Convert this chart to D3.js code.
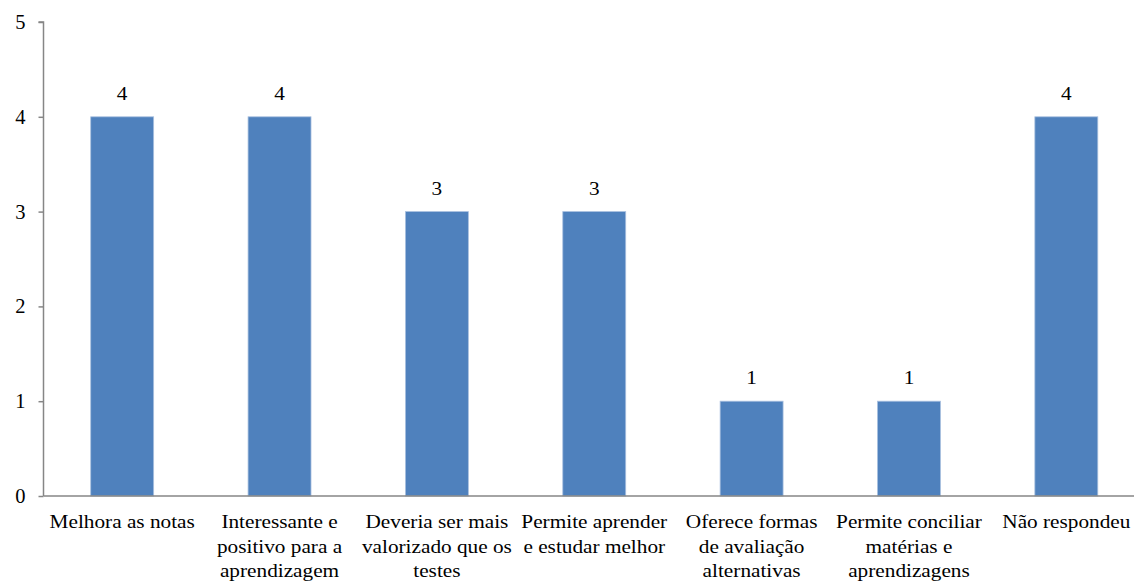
<!DOCTYPE html>
<html>
<head>
<meta charset="utf-8">
<script src="https://cdn.jsdelivr.net/npm/d3@7"></script>
<style>
  body { margin: 0; background: #fff; }
  #chart { width: 1134px; height: 582px; }
</style>
</head>
<body>
<div id="chart"></div>
<script>
// Chart data
var categories = [
    "Melhora as notas",
    "Interessante e positivo para a aprendizagem",
    "Deveria ser mais valorizado que os testes",
    "Permite aprender e estudar melhor",
    "Oferece formas de avaliação alternativas",
    "Permite conciliar matérias e aprendizagens",
    "Não respondeu"
];
var values = [4, 4, 3, 3, 1, 1, 4];
// Label lines as they wrap in the picture
var labelLines = [
    ["Melhora as notas"],
    ["Interessante e", "positivo para a", "aprendizagem"],
    ["Deveria ser mais", "valorizado que os", "testes"],
    ["Permite aprender", "e estudar melhor"],
    ["Oferece formas", "de avaliação", "alternativas"],
    ["Permite conciliar", "matérias e", "aprendizagens"],
    ["Não respondeu"]
];
var yTicks = [0, 1, 2, 3, 4, 5];

var serif = "'Liberation Serif', 'Times New Roman', 'DejaVu Serif', serif";

function init() {
    var container = d3.select("#chart");
    var w = 1134, h = 582;

    var svg = container.append("svg")
                .attr("width", w)
                .attr("height", h);

    // Plot area extends a bit past the right edge, like the source
    var x = d3.scaleBand()
              .domain(categories)
              .range([43.5, 1145])
              .paddingInner(0.6)
              .paddingOuter(0.3);

    var y = d3.scaleLinear()
              .domain([0, 5])
              .range([496, 22]);

    // Bars
    svg.selectAll("rect.bar")
        .data(values)
        .enter()
        .append("rect")
        .attr("class", "bar")
        .attr("x", function(d, i) { return x(categories[i]); })
        .attr("y", function(d) { return y(d); })
        .attr("width", x.bandwidth())
        .attr("height", function(d) { return y(0) - y(d); })
        .attr("fill", "#4f81bd")
        .attr("stroke", "#a9c0df")
        .attr("stroke-width", 0.8);

    // Value labels (source text is a bit stretched sideways)
    svg.selectAll("text.val")
        .data(values)
        .enter()
        .append("text")
        .attr("class", "val")
        .attr("transform", function(d, i) {
            return "translate(" + (x(categories[i]) + x.bandwidth() / 2) + "," + (y(d) - 17) + ") scale(1.15,1)";
        })
        .attr("text-anchor", "middle")
        .style("font-family", serif)
        .style("font-size", "18.5px")
        .style("fill", "#000")
        .text(function(d) { return d; });

    // Y axis
    var yAxis = svg.append("g")
        .attr("transform", "translate(43.5,0)")
        .call(d3.axisLeft(y).tickValues(yTicks).tickFormat(d3.format("d")).tickSize(5).tickPadding(13));
    yAxis.selectAll("line, path").attr("stroke", "#868686").attr("stroke-width", 1.5);
    yAxis.select(".domain").attr("d", "M-5," + y(5) + "H0V" + y(0));
    yAxis.selectAll("text")
        .style("font-family", serif)
        .style("font-size", "20.5px")
        .style("fill", "#000");

    // X axis
    var xAxis = svg.append("g")
        .attr("transform", "translate(0," + y(0) + ")")
        .call(d3.axisBottom(x).tickSize(0).tickPadding(0));
    xAxis.select(".domain").attr("stroke", "#868686").attr("stroke-width", 1.5)
        .attr("d", "M43.5,0H" + w);
    xAxis.selectAll(".tick text").each(function(d, i) {
        var t = d3.select(this);
        t.text(null)
         .attr("y", 0)
         .attr("dy", null)
         .attr("transform", "scale(1.15,1)")
         .style("font-family", serif)
         .style("font-size", "18.5px")
         .style("fill", "#000");
        labelLines[i].forEach(function(line, k) {
            t.append("tspan")
             .attr("x", 0)
             .attr("y", 32.5 + k * 24.5)
             .text(line);
        });
    });
}

window.onload = init;
</script>
</body>
</html>
